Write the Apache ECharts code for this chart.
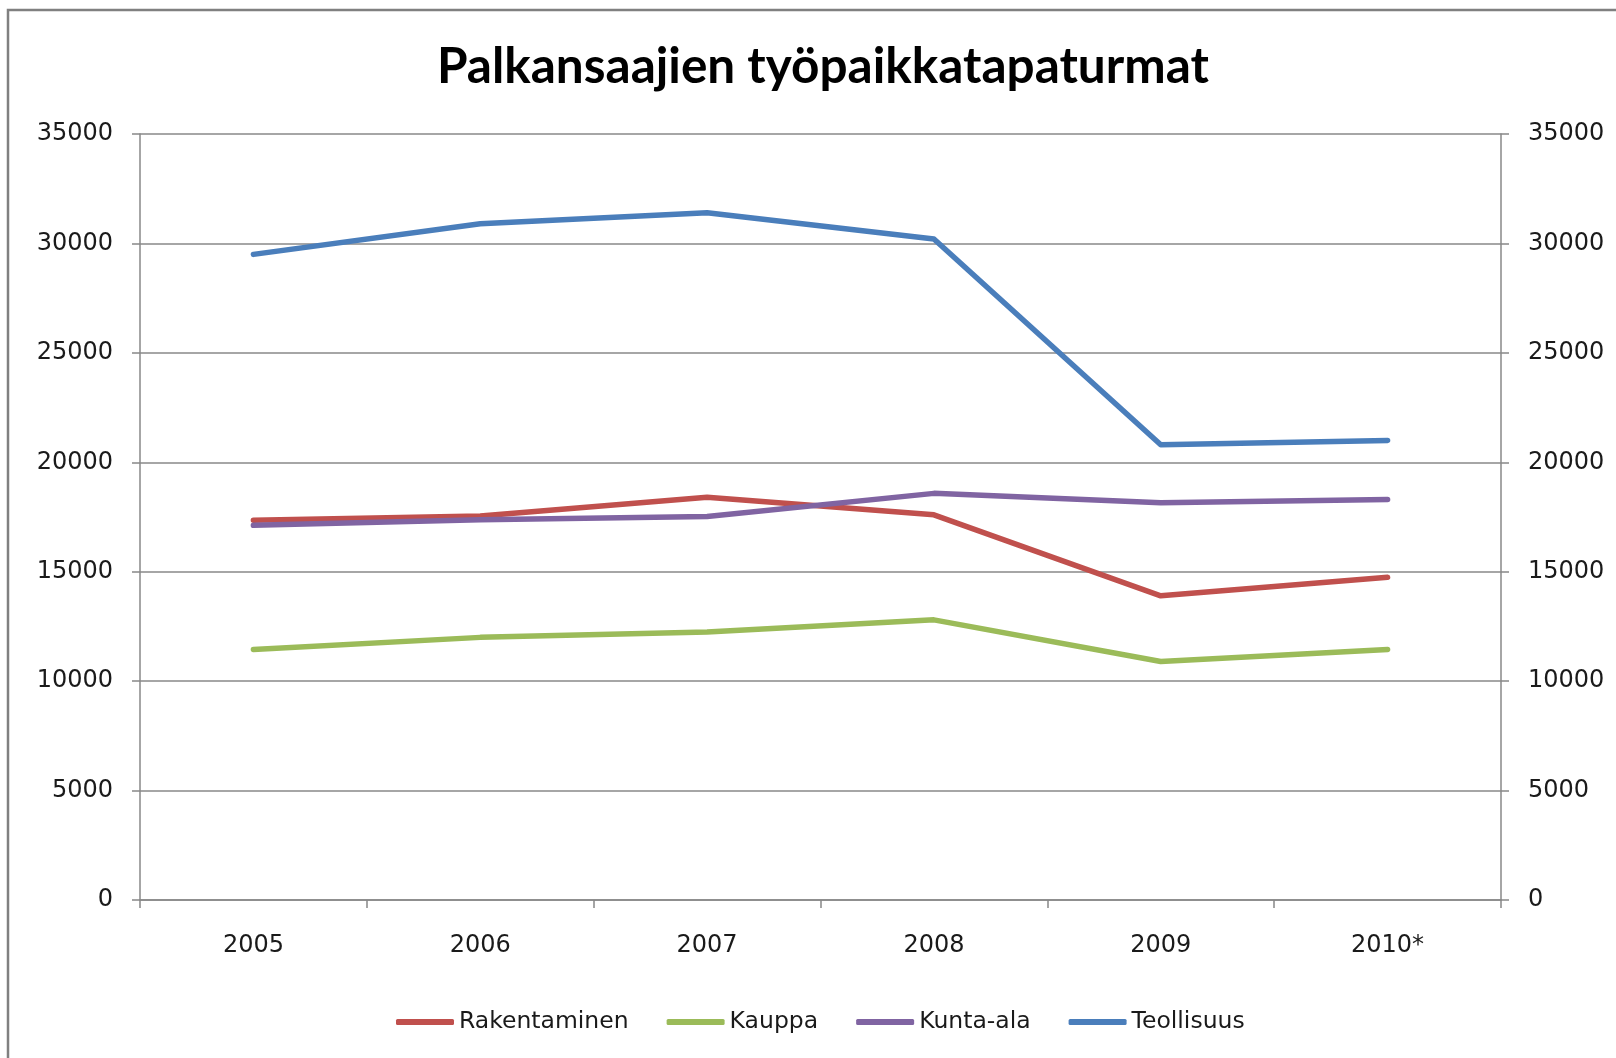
<!DOCTYPE html>
<html>
<head>
<meta charset="utf-8">
<script src="https://cdn.jsdelivr.net/npm/echarts@6/dist/echarts.min.js"></script>
<style>
html,body{margin:0;padding:0;background:#fff;}
#chart{width:1616px;height:1058px;}
</style>
</head>
<body>
<div id="chart"></div>
<script>
const titleText = 'Palkansaajien työpaikkatapaturmat';
const categories = ['2005', '2006', '2007', '2008', '2009', '2010*'];
const seriesNames = ['Rakentaminen', 'Kauppa', 'Kunta-ala', 'Teollisuus'];
const rakentaminen = [17350, 17550, 18400, 17600, 13900, 14750];
const kauppa = [11450, 12000, 12250, 12800, 10900, 11450];
const kuntaAla = [17120, 17380, 17520, 18580, 18150, 18300];
const teollisuus = [29500, 30900, 31400, 30200, 20800, 21000];
const yMin = 0, yMax = 35000, yStep = 5000;
const colors = ['#C0504D', '#9BBB59', '#8064A2', '#4A7EBB'];

const seriesData = [rakentaminen, kauppa, kuntaAla, teollisuus];
const chart = echarts.init(document.getElementById('chart'), null, {renderer: 'canvas'});
const labelFont = {fontFamily: 'DejaVu Sans', fontSize: 24, color: '#1a1a1a'};
const yAxisBase = {
  type: 'value', min: yMin, max: yMax, interval: yStep,
  axisLine: {show: true, lineStyle: {color: '#888888', width: 1.5}},
  axisTick: {show: true, length: 8, lineStyle: {color: '#888888', width: 1.5}},
  axisLabel: Object.assign({margin: 27, formatter: v => String(v)}, labelFont)
};
chart.setOption({
  backgroundColor: '#ffffff',
  animation: false,
  color: colors,
  title: {
    text: titleText, left: 432, top: 37,
    textStyle: {fontFamily: 'Lato', fontWeight: 'bold', fontSize: 49.5, color: '#000'}
  },
  graphic: [{
    type: 'rect', shape: {x: 8, y: 10, width: 1700, height: 1200},
    style: {fill: null, stroke: '#808080', lineWidth: 2.5}, silent: true
  }],
  legend: {
    data: seriesNames, left: 391, top: 1005, itemGap: 38,
    itemWidth: 58, itemHeight: 6, icon: 'roundRect',
    textStyle: Object.assign({}, labelFont, {fontSize: 23.5})
  },
  grid: {left: 140, right: 115, top: 134, bottom: 158, containLabel: false},
  xAxis: {
    type: 'category', data: categories, boundaryGap: true,
    axisLine: {lineStyle: {color: '#888888', width: 1.5}},
    axisTick: {show: true, length: 8, alignWithLabel: false, lineStyle: {color: '#888888', width: 1.5}},
    axisLabel: Object.assign({margin: 34}, labelFont)
  },
  yAxis: [
    Object.assign({}, yAxisBase, {position: 'left', splitLine: {show: true, lineStyle: {color: '#888888', width: 1.5}}}),
    Object.assign({}, yAxisBase, {position: 'right', splitLine: {show: false}})
  ],
  series: seriesData.map((d, i) => ({
    name: seriesNames[i], type: 'line', data: d, yAxisIndex: 0,
    symbol: 'none', lineStyle: {width: 5.5, color: colors[i], cap: 'round', join: 'round'},
    itemStyle: {color: colors[i]}
  }))
});
</script>
</body>
</html>
